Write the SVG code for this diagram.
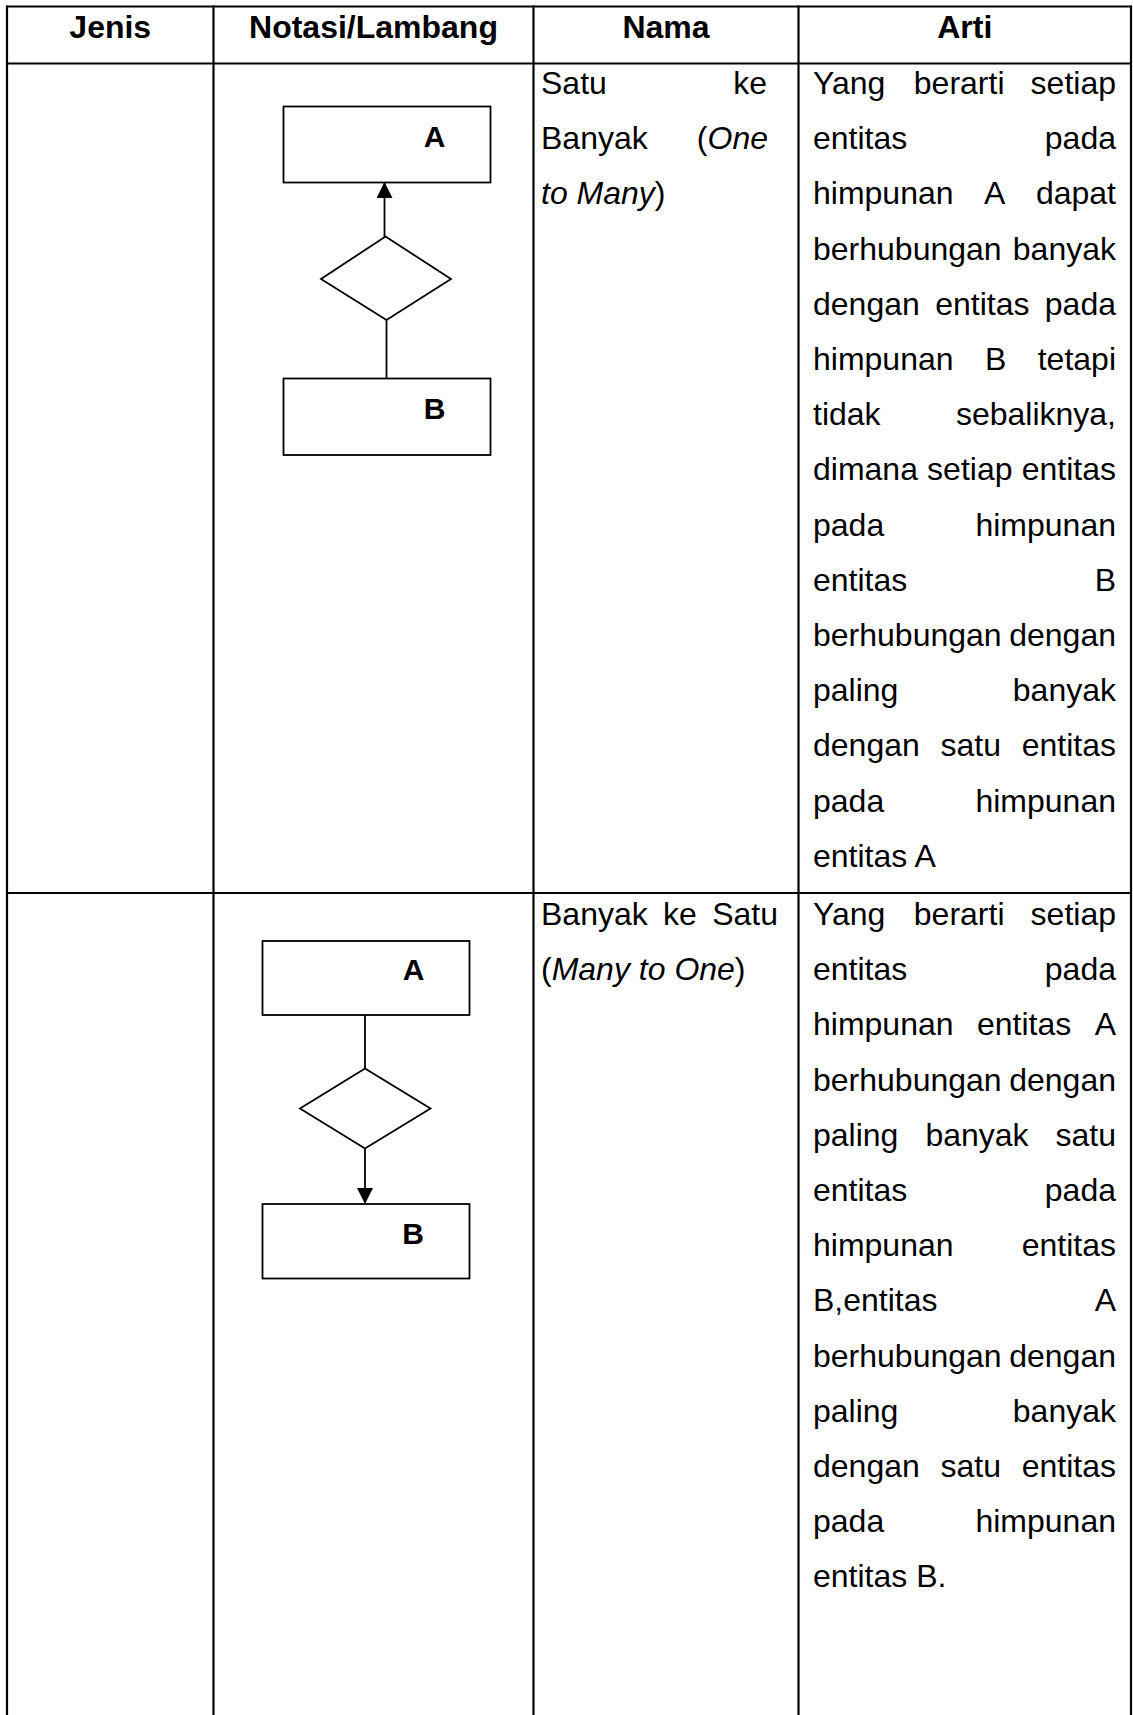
<svg xmlns="http://www.w3.org/2000/svg" width="1133" height="1715" viewBox="0 0 1133 1715">
<style>
text{font-family:"Liberation Sans",Arial,sans-serif;font-size:32px;fill:#000}
.h{font-weight:bold;text-anchor:middle}
.e{text-anchor:end}
.i{font-style:italic}
.lbl{font-weight:bold;font-size:30px;text-anchor:middle}
.grid{stroke:#000;stroke-width:2.2;fill:none}
.shape{stroke:#000;stroke-width:1.8;fill:#fff}
.conn{stroke:#000;stroke-width:1.8;fill:none}
</style>
<defs>
<marker id="arr" markerUnits="userSpaceOnUse" markerWidth="18" markerHeight="18" refX="16" refY="8" orient="auto">
<path d="M0,0 L16,8 L0,16 z" fill="#000"/>
</marker>
</defs>
<rect width="1133" height="1715" fill="#fff"/>
<g id="table" class="grid">
<line x1="7" y1="6.5" x2="1131" y2="6.5"/>
<line x1="7" y1="63.5" x2="1131" y2="63.5"/>
<line x1="7" y1="893" x2="1131" y2="893"/>
<line x1="7" y1="5.5" x2="7" y2="1715"/>
<line x1="213.5" y1="5.5" x2="213.5" y2="1715"/>
<line x1="533.5" y1="5.5" x2="533.5" y2="1715"/>
<line x1="798.5" y1="5.5" x2="798.5" y2="1715"/>
<line x1="1131" y1="5.5" x2="1131" y2="1715"/>
</g>
<g id="header">
<text class="h" x="110.25" y="38">Jenis</text>
<text class="h" x="373.5" y="38">Notasi/Lambang</text>
<text class="h" x="666" y="38">Nama</text>
<text class="h" x="964.75" y="38">Arti</text>
</g>
<g id="row1-nama">
<text x="541" y="94">Satu</text><text class="e" x="767" y="94">ke</text>
<text x="541" y="149.2">Banyak</text><text class="e" x="768" y="149.2">(<tspan class="i">One</tspan></text>
<text x="541" y="204.4"><tspan class="i">to Many</tspan>)</text>
</g>
<g id="row1-arti">
<text x="813" y="94">Yang</text><text x="913.8" y="94">berarti</text><text class="e" x="1116" y="94">setiap</text>
<text x="813" y="149.2">entitas</text><text class="e" x="1116" y="149.2">pada</text>
<text x="813" y="204.4">himpunan</text><text x="984.1" y="204.4">A</text><text class="e" x="1116" y="204.4">dapat</text>
<text x="813" y="259.6">berhubungan</text><text class="e" x="1116" y="259.6">banyak</text>
<text x="813" y="314.8">dengan</text><text x="935.2" y="314.8">entitas</text><text class="e" x="1116" y="314.8">pada</text>
<text x="813" y="370">himpunan</text><text x="985" y="370">B</text><text class="e" x="1116" y="370">tetapi</text>
<text x="813" y="425.2">tidak</text><text class="e" x="1116" y="425.2">sebaliknya,</text>
<text x="813" y="480.4">dimana</text><text x="927.1" y="480.4">setiap</text><text class="e" x="1116" y="480.4">entitas</text>
<text x="813" y="535.6">pada</text><text class="e" x="1116" y="535.6">himpunan</text>
<text x="813" y="590.8">entitas</text><text class="e" x="1116" y="590.8">B</text>
<text x="813" y="646">berhubungan</text><text class="e" x="1116" y="646">dengan</text>
<text x="813" y="701.2">paling</text><text class="e" x="1116" y="701.2">banyak</text>
<text x="813" y="756.4">dengan</text><text x="940.5" y="756.4">satu</text><text class="e" x="1116" y="756.4">entitas</text>
<text x="813" y="811.6">pada</text><text class="e" x="1116" y="811.6">himpunan</text>
<text x="813" y="866.8">entitas A</text>
</g>
<g id="row2-nama">
<text x="541" y="925">Banyak</text><text x="663" y="925">ke</text><text class="e" x="778" y="925">Satu</text>
<text x="541" y="980.2">(<tspan class="i">Many to One</tspan>)</text>
</g>
<g id="row2-arti">
<text x="813" y="925">Yang</text><text x="913.8" y="925">berarti</text><text class="e" x="1116" y="925">setiap</text>
<text x="813" y="980.2">entitas</text><text class="e" x="1116" y="980.2">pada</text>
<text x="813" y="1035.4">himpunan</text><text x="977" y="1035.4">entitas</text><text class="e" x="1116" y="1035.4">A</text>
<text x="813" y="1090.6">berhubungan</text><text class="e" x="1116" y="1090.6">dengan</text>
<text x="813" y="1145.8">paling</text><text x="925.4" y="1145.8">banyak</text><text class="e" x="1116" y="1145.8">satu</text>
<text x="813" y="1201">entitas</text><text class="e" x="1116" y="1201">pada</text>
<text x="813" y="1256.2">himpunan</text><text class="e" x="1116" y="1256.2">entitas</text>
<text x="813" y="1311.4">B,entitas</text><text class="e" x="1116" y="1311.4">A</text>
<text x="813" y="1366.6">berhubungan</text><text class="e" x="1116" y="1366.6">dengan</text>
<text x="813" y="1421.8">paling</text><text class="e" x="1116" y="1421.8">banyak</text>
<text x="813" y="1477">dengan</text><text x="940.5" y="1477">satu</text><text class="e" x="1116" y="1477">entitas</text>
<text x="813" y="1532.2">pada</text><text class="e" x="1116" y="1532.2">himpunan</text>
<text x="813" y="1587.4">entitas B.</text>
</g>
<g id="connectors">
<line class="conn" x1="384.5" y1="237" x2="384.5" y2="182" marker-end="url(#arr)"/>
<line class="conn" x1="386.5" y1="320" x2="386.5" y2="378.5"/>
<line class="conn" x1="365" y1="1015" x2="365" y2="1068.5"/>
<line class="conn" x1="365" y1="1148.5" x2="365" y2="1204" marker-end="url(#arr)"/>
</g>
<g id="r1-entityA"><rect class="shape" x="283.5" y="106.5" width="207" height="76"/><text class="lbl" x="434.5" y="146.5">A</text></g>
<g id="r1-relation"><polygon class="shape" points="385.5,236.5 451,279 386.5,320 321,279"/></g>
<g id="r1-entityB"><rect class="shape" x="283.5" y="378.5" width="207" height="76.5"/><text class="lbl" x="434.5" y="418.5">B</text></g>
<g id="r2-entityA"><rect class="shape" x="262.5" y="941" width="207" height="74"/><text class="lbl" x="413.5" y="980">A</text></g>
<g id="r2-relation"><polygon class="shape" points="365,1068.5 430.5,1108.5 365,1148.5 300,1108.5"/></g>
<g id="r2-entityB"><rect class="shape" x="262.5" y="1204" width="207" height="74.5"/><text class="lbl" x="413" y="1243.5">B</text></g>
</svg>
